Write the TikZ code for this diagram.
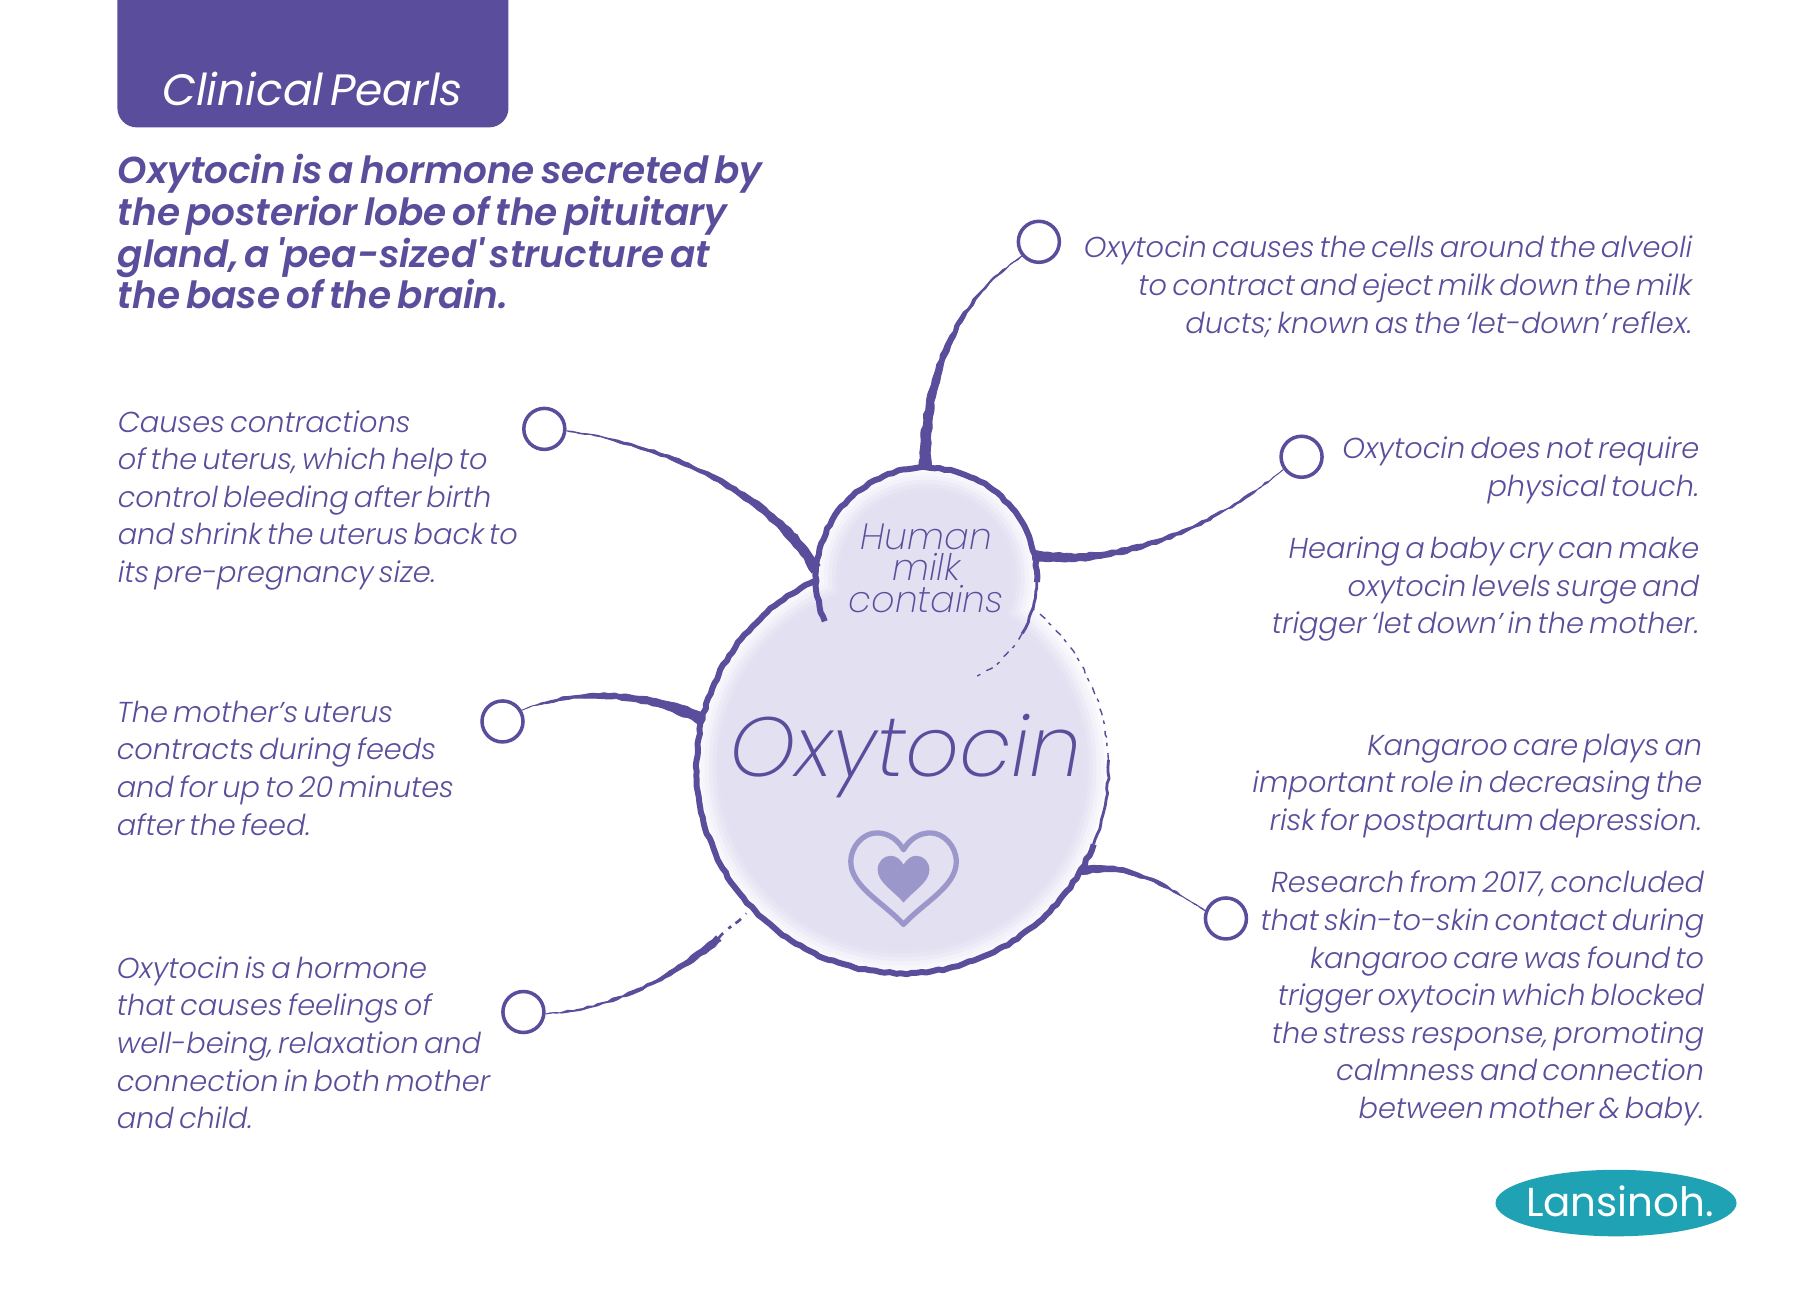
\documentclass[tikz,border=0pt]{standalone}
\usepackage{fontspec}
\usepackage{tikz}
\usetikzlibrary{calc}
\usetikzlibrary{shapes.geometric}
\usetikzlibrary{decorations.pathmorphing}
\setmainfont{Poppins}
\newfontfamily\lightfont[WordSpace=0.6]{Poppins Light Italic}
\newfontfamily\thinfont{Poppins ExtraLight Italic}
\newfontfamily\headfont[WordSpace=0.6]{Poppins SemiBold Italic}
\newfontfamily\tabfont[WordSpace=0.5]{Poppins Italic}
\definecolor{pearl}{HTML}{5A4E9C}
\definecolor{milk}{HTML}{E2E0F1}
\definecolor{heartline}{HTML}{9C97CA}
\definecolor{logoteal}{HTML}{1FA3B4}
\newcommand{\branch}[5]{\draw [brush] (#1) .. controls (#2) and (#3) .. ($(#4)+(#5)$) -- ($(#4)-(#5)$) .. controls ($(#3)-(#5)$) and ($(#2)-0.7*(#5)$) .. (#1) -- cycle;}
\begin{document}
\begin{tikzpicture}[x=0.0199cm,y=-0.0199cm,
    ring/.style={circle,draw=pearl,line width=2pt,inner sep=0pt,minimum size=0.82cm,name=#1},
    rough/.style={decorate,decoration={random steps,segment length=3pt,amplitude=0.5pt},line join=round},
    brush/.style={rough,draw=pearl,fill=pearl,line width=0.5pt},
    outline/.style={rough,draw=pearl,line width=3.4pt},
    midline/.style={rough,draw=pearl,line width=1.6pt},
    sketch/.style={rough,draw=pearl,line width=0.8pt,dash pattern=on 4pt off 4pt on 2pt off 3pt},
    bodyleft/.style={anchor=north west,inner sep=0pt,align=left,text=pearl,font=\lightfont\fontsize{16.4}{21.4}\selectfont},
    bodyright/.style={anchor=north east,inner sep=0pt,align=right,text=pearl,font=\lightfont\fontsize{16.4}{21.4}\selectfont}]
  \pgfmathsetseed{7}
  \useasboundingbox (0,0) rectangle (1829,1318.5);
  \fill [white] (0,0) rectangle (1829,1318.5);
  % header
  \fill [pearl,rounded corners=11pt] (118,-40) rectangle (511,128);
  \node [name=tabtext,text=white,font=\tabfont\fontsize{25}{28}\selectfont] at (314,89) {Clinical Pearls};
  \node [name=headline,anchor=north west,inner sep=0pt,align=left,text=pearl,font=\headfont\fontsize{21.3}{23.7}\selectfont] at (118,155)
    {Oxytocin is a hormone secreted by\\the posterior lobe of the pituitary\\gland, a 'pea-sized' structure at\\the base of the brain.};
  % centre blobs
  \coordinate (bigC) at (907,771);
  \coordinate (smallC) at (931,581);
  \foreach \g/\o in {0/0.1,4/0.15,8/0.2,12/0.3,16/0.4,20/0.6,24/1}
    \fill [milk,opacity=\o] (bigC) circle [radius=207-\g] (smallC) circle [radius=111-\g];
  \draw [outline] (bigC) ++(-115:207) arc [start angle=-115,end angle=-338,radius=207];
  \draw [midline] (bigC) ++(-338:207) arc [start angle=-338,end angle=-362,radius=207];
  \draw [sketch] (bigC) ++(-362:207) arc [start angle=-362,end angle=-412,radius=207];
  \draw [outline] (smallC) ++(-203:111) arc [start angle=-203,end angle=2,radius=111];
  \draw [midline] (smallC) ++(2:111) arc [start angle=2,end angle=30,radius=111];
  \draw [sketch] (smallC) ++(30:111) arc [start angle=30,end angle=65,radius=111];
  \node [name=milktext,align=center,text=pearl,font=\thinfont\fontsize{20.8}{18}\selectfont] at (931,571) {Human\\milk\\contains};
  \node [name=oxytext,text=pearl,font=\thinfont\fontsize{47.8}{50}\selectfont] at (910,760) {Oxytocin};
  % heart
  \begin{scope}[shift={(908,883)}]
    \draw [heartline,line width=3pt,line join=round] (0,46) .. controls (-20,24) and (-53,8) .. (-53,-17) .. controls (-53,-33) and (-40,-46) .. (-27,-46) .. controls (-14,-46) and (-5,-38) .. (0,-29) .. controls (5,-38) and (14,-46) .. (27,-46) .. controls (40,-46) and (53,-33) .. (53,-17) .. controls (53,8) and (20,24) .. (0,46) -- cycle;
    \fill [heartline] (0,24) .. controls (-10,12) and (-26,4) .. (-26,-9) .. controls (-26,-17) and (-20,-23) .. (-13,-23) .. controls (-7,-23) and (-3,-19) .. (0,-14) .. controls (3,-19) and (7,-23) .. (13,-23) .. controls (20,-23) and (26,-17) .. (26,-9) .. controls (26,4) and (10,12) .. (0,24) -- cycle;
  \end{scope}
  % rings
  \node [ring=ringA] at (1044,243) {};
  \node [ring=ringB] at (1308,459) {};
  \node [ring=ringC] at (547,431) {};
  \node [ring=ringD] at (505,725) {};
  \node [ring=ringE] at (526,1017) {};
  \node [ring=ringF] at (1232,923) {};
  \coordinate (jointA) at (930,470);
  \coordinate (jointB) at (1038,558);
  \coordinate (jointC) at (820,572);
  \coordinate (jointD) at (706,723);
  \coordinate (jointE) at (722,943);
  \coordinate (fadeE) at (750,918);
  \coordinate (jointF) at (1087,875);
  \branch{ringA.220}{968,298}{931,373}{jointA}{6,0}
  \branch{ringB.215}{1213,537}{1120,572}{jointB}{0,5}
  \branch{ringC.-5}{688,449}{782,502}{jointC}{4,-4}
  \branch{ringD.30}{583,688}{653,694}{jointD}{1,-6}
  \branch{ringE.-5}{618,1015}{683,980}{jointE}{2.5,2.5}
  \draw [sketch,line width=1.5pt] (jointE) -- (fadeE);
  \branch{ringF.160}{1167,887}{1132,869}{jointF}{0,4}
  % text blocks
  \node [name=letdown,bodyright] at (1701,237) {Oxytocin causes the cells around the alveoli\\to contract and eject milk down the milk\\ducts; known as the ‘let-down’ reflex.};
  \node [name=touch,bodyright] at (1708,439) {Oxytocin does not require\\physical touch.};
  \node [name=cry,bodyright] at (1708,539) {Hearing a baby cry can make\\oxytocin levels surge and\\trigger ‘let down’ in the mother.};
  \node [name=kangaroo,bodyright] at (1711,737) {Kangaroo care plays an\\important role in decreasing the\\risk for postpartum depression.};
  \node [name=research,bodyright] at (1713,875) {Research from 2017, concluded\\that skin-to-skin contact during\\kangaroo care was found to\\trigger oxytocin which blocked\\the stress response, promoting\\calmness and connection\\between mother \& baby.};
  \node [name=uterus,bodyleft] at (118,412) {Causes contractions\\of the uterus, which help to\\control bleeding after birth\\and shrink the uterus back to\\its pre-pregnancy size.};
  \node [name=feeds,bodyleft] at (117,704) {The mother’s uterus\\contracts during feeds\\and for up to 20 minutes\\after the feed.};
  \node [name=wellbeing,bodyleft] at (117,961) {Oxytocin is a hormone\\that causes feelings of\\well-being, relaxation and\\connection in both mother\\and child.};
  % logo
  \node [name=logo,ellipse,fill=logoteal,minimum width=4.82cm,minimum height=1.33cm,inner sep=0pt] at (1624,1209) {};
  \node [name=logotext,text=white,font=\fontsize{23}{25}\selectfont] at (1628,1207) {Lansinoh.};
\end{tikzpicture}
\end{document}
